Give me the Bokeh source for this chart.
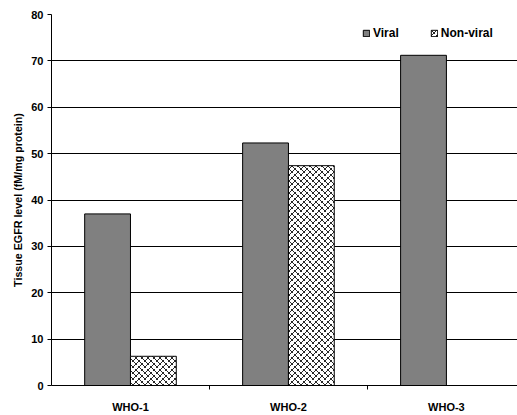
import base64, struct, zlib, math
from bokeh.plotting import figure
from bokeh.models import (ColumnDataSource, Range1d, FixedTicker, Grid, Legend, LegendItem,
                          ImageURLTexture)
from bokeh.transform import dodge
from bokeh.core.properties import value
from bokeh.embed import file_html
from bokeh.resources import INLINE

categories = ["WHO-1", "WHO-2", "WHO-3"]
viral = [37.0, 52.3, 71.2]
non_viral = [6.3, 47.4, float("nan")]
y_ticks = [0, 10, 20, 30, 40, 50, 60, 70, 80]
series_names = ["Viral", "Non-viral"]

FONT = "Liberation Sans"

# --- weave texture (PNG generated in memory) ---
bits = [0x88, 0x54, 0x22, 0x45, 0x88, 0x14, 0x22, 0x51]
T = 12
rows = []
for py in range(T):
    row = bytearray()
    for px in range(T):
        by = bits[(py * 8) // T]
        b = (by >> (7 - (px * 8) // T)) & 1
        c = 40 if b else 255
        row += bytes([c, c, c])
    rows.append(row)
raw = b"".join(b"\x00" + bytes(r) for r in rows)

def chunk(t, d):
    return struct.pack(">I", len(d)) + t + d + struct.pack(">I", zlib.crc32(t + d) & 0xffffffff)

png = (b"\x89PNG\r\n\x1a\n" + chunk(b"IHDR", struct.pack(">IIBBBBB", T, T, 8, 2, 0, 0, 0))
       + chunk(b"IDAT", zlib.compress(raw)) + chunk(b"IEND", b""))
url = "data:image/png;base64," + base64.b64encode(png).decode()

xs = [i + 0.5 for i in range(len(categories))]
source = ColumnDataSource(data=dict(x=xs, viral=viral, non_viral=non_viral))

p = figure(width=517, height=415, output_backend="svg", toolbar_location=None,
           x_range=Range1d(0, 2.95), y_range=Range1d(0, 80),
           min_border_left=51, min_border_top=14, min_border_bottom=27, min_border_right=0)
p.outline_line_color = None
p.background_fill_color = "white"
p.border_fill_color = "white"

r1 = p.vbar(x=dodge("x", -0.145, range=p.x_range), top="viral", width=0.29, bottom=0,
            source=source, fill_color="#808080", line_color="black", line_width=1)
r2 = p.vbar(x=dodge("x", 0.145, range=p.x_range), top="non_viral", width=0.29, bottom=0,
            source=source, fill_color="white", line_color="black", line_width=1,
            hatch_pattern=value("weave"),
            hatch_extra={"weave": ImageURLTexture(url=url, repetition="repeat")})

# axes
p.xaxis.ticker = FixedTicker(ticks=xs, minor_ticks=[1, 2])
p.xaxis.major_label_overrides = {x: c for x, c in zip(xs, categories)}
p.xaxis.major_tick_line_color = None
p.xaxis.major_tick_out = 0
p.xaxis.major_tick_in = 0
p.xaxis.minor_tick_out = 4
p.xaxis.minor_tick_in = 0
p.xaxis.minor_tick_line_color = "black"
p.xaxis.axis_line_color = "black"
p.xaxis.major_label_standoff = 11
p.xaxis.major_label_text_font = FONT
p.xaxis.major_label_text_font_style = "bold"
p.xaxis.major_label_text_font_size = "11px"
p.xaxis.major_label_text_color = "black"

p.yaxis.ticker = FixedTicker(ticks=y_ticks)
p.yaxis.major_tick_out = 4
p.yaxis.major_tick_in = 0
p.yaxis.minor_tick_line_color = None
p.yaxis.axis_line_color = "black"
p.yaxis.major_tick_line_color = "black"
p.yaxis.major_label_standoff = 4
p.yaxis.major_label_text_font = FONT
p.yaxis.major_label_text_font_style = "bold"
p.yaxis.major_label_text_font_size = "11px"
p.yaxis.major_label_text_color = "black"
p.yaxis.axis_label = "Tissue EGFR level (fM/mg protein)"
p.yaxis.axis_label_text_font = FONT
p.yaxis.axis_label_text_font_style = "bold"
p.yaxis.axis_label_text_font_size = "10.7px"
p.yaxis.axis_label_text_color = "black"
p.yaxis.axis_label_standoff = 4

# grids
p.xgrid.grid_line_color = None
p.ygrid.ticker = FixedTicker(ticks=y_ticks[1:-1])
p.ygrid.grid_line_color = "black"
p.ygrid.grid_line_width = 1
p.add_layout(Grid(dimension=1, ticker=FixedTicker(ticks=[y_ticks[-1]]),
                  grid_line_color="#808080", grid_line_width=1))

legend = Legend(items=[LegendItem(label=series_names[0], renderers=[r1]),
                       LegendItem(label=series_names[1], renderers=[r2])],
                orientation="horizontal", location=(311, 345),
                glyph_width=8, glyph_height=8, label_standoff=3, spacing=31,
                padding=0, margin=0, label_height=10,
                label_text_font=FONT, label_text_font_style="bold",
                label_text_font_size="12px", label_text_color="black",
                border_line_color=None, background_fill_alpha=0)
p.add_layout(legend)

open("out.html", "w").write(file_html(p, INLINE))
